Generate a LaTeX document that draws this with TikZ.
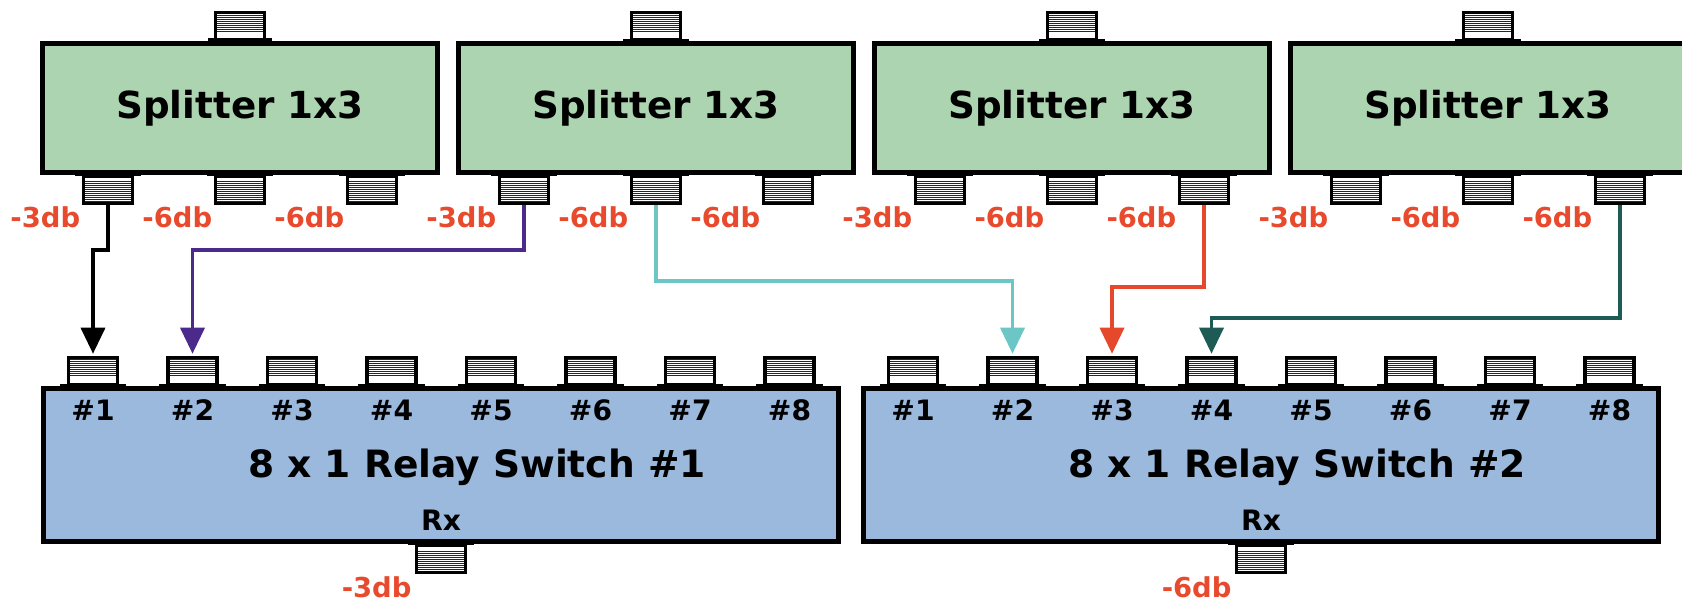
\documentclass[tikz,border=0pt]{standalone}
\usepackage{fontspec}
\setmainfont{DejaVu Sans}
\usetikzlibrary{arrows.meta,patterns.meta}
\definecolor{splitgreen}{HTML}{ADD4B0}
\definecolor{relayblue}{HTML}{9AB9DD}
\definecolor{dbred}{HTML}{E84A2E}
\definecolor{wirepurple}{HTML}{4B2A8C}
\definecolor{wirecyan}{HTML}{6CC6C6}
\definecolor{wirered}{HTML}{E6482C}
\definecolor{wireteal}{HTML}{1D5B54}

\begin{document}
\begin{tikzpicture}
	[x=0.1mm,y=-0.1mm,
	 splitter/.style={draw=black,line width=0.5mm,fill=splitgreen,minimum width=39.5mm,minimum height=12.9mm,inner sep=0pt,font=\bfseries\fontsize{10.6pt}{12pt}\selectfont},
	 relay/.style={draw=black,line width=0.5mm,fill=relayblue,minimum width=79.5mm,minimum height=15.3mm,inner sep=0pt},
	 port/.style={draw=black,line width=0.35mm,minimum width=4.9mm,minimum height=2.7mm,inner sep=0pt,pattern={Lines[distance=0.2mm,line width=0.1mm]},pattern color=black!85},
	 portabove/.style={port,path picture={\fill[white] (path picture bounding box.south west) rectangle ([yshift=0.7mm]path picture bounding box.south east);}},
	 portbelow/.style={port,path picture={\fill[white] (path picture bounding box.north west) rectangle ([yshift=-0.5mm]path picture bounding box.north east);}},
	 flange/.style={line width=0.35mm},
	 dblabel/.style={text=dbred,inner sep=0pt,font=\bfseries\fontsize{7.8pt}{9pt}\selectfont},
	 hashlabel/.style={inner sep=0pt,font=\bfseries\fontsize{8pt}{9pt}\selectfont},
	 title/.style={inner sep=0pt,anchor=base,font=\bfseries\fontsize{10.7pt}{12pt}\selectfont},
	 wire/.style={line width=0.35mm,-{Triangle[length=2.6mm,width=2.4mm]},shorten >=0.2mm},
	 blackarrow/.style={wire,black},
	 purplearrow/.style={wire,wirepurple},
	 cyanarrow/.style={wire,wirecyan},
	 redarrow/.style={wire,wirered},
	 tealarrow/.style={wire,wireteal}];
\clip (0,0) rectangle (1682,604);

% splitters with one input and three outputs
\foreach \s/\x in {1/240,2/656,3/1072,4/1488} {
	\node[splitter] (s\s) at (\x,108) {Splitter 1x3};
	\node[portabove] (s\s in) at (\x,26) {};
	\draw[flange] ([xshift=-0.7mm]s\s in.south west) -- ([xshift=0.7mm]s\s in.south east);
	\foreach \k/\db in {1/-3db,2/-6db,3/-6db} {
		\node[portbelow,label={[dblabel,label distance=0.1mm]south west:\db}] (s\s o\k) at (\x-264+132*\k,190) {};
		\draw[flange] ([xshift=-0.7mm]s\s o\k.north west) -- ([xshift=0.7mm]s\s o\k.north east);
	}
}

% relay switches
\foreach \r/\x/\db in {1/441/-3db,2/1261/-6db} {
	\node[relay] (r\r) at (\x,465) {};
	\node[title] (r\r title) at (\x+36,478) {8 x 1 Relay Switch \#\r};
	\node[hashlabel] (r\r rxtext) at (\x,520) {Rx};
	\node[portbelow,label={[dblabel,label distance=0.3mm]south west:\db}] (r\r rx) at (\x,559) {};
	\draw[flange] ([xshift=-0.7mm]r\r rx.north west) -- ([xshift=0.7mm]r\r rx.north east);
	\foreach \k in {1,...,8} {
		\node[portabove,label={[hashlabel,label distance=1.3mm]south:\#\k}] (r\r i\k) at (\x-447.5+99.5*\k,371) {};
		\draw[flange] ([xshift=-0.7mm]r\r i\k.south west) -- ([xshift=0.7mm]r\r i\k.south east);
	}
}

% cabling
\draw[blackarrow] (s1o1.south) -- ++(0,45) -| (r1i1.north);
\draw[purplearrow] (s2o1.south) -- ++(0,45) -| (r1i2.north);
\draw[cyanarrow] (s2o2.south) -- ++(0,76) -| (r2i2.north);
\draw[redarrow] (s3o3.south) -- ++(0,82) -| (r2i3.north);
\draw[tealarrow] (s4o3.south) -- ++(0,113) -| (r2i4.north);
\end{tikzpicture}
\end{document}
